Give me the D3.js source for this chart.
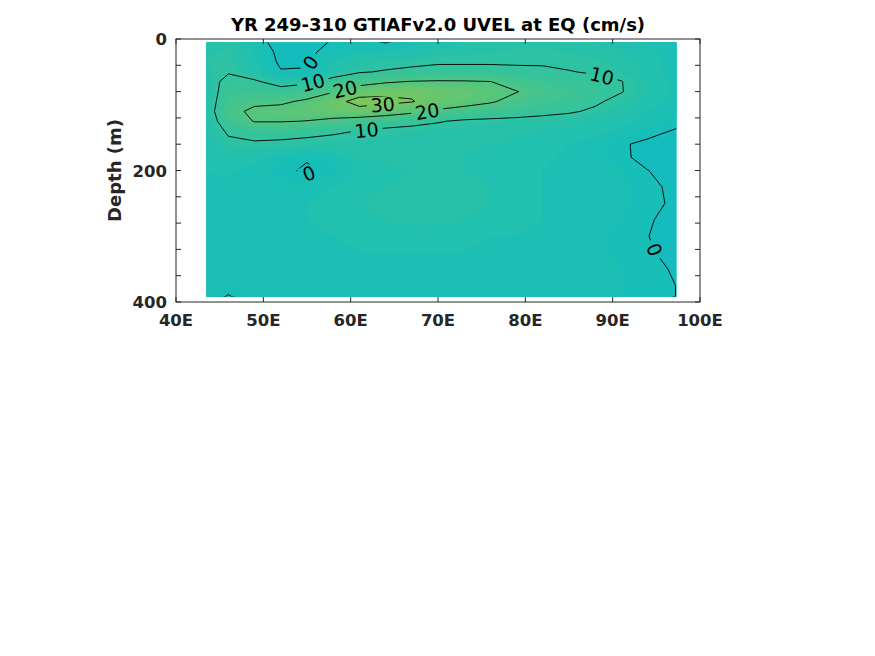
<!DOCTYPE html>
<html>
<head>
<meta charset="utf-8">
<script src="https://cdn.jsdelivr.net/npm/d3@7"></script>
<style>
  body { margin: 0; background: #ffffff; }
</style>
</head>
<body>
<script>

// ---- data ----
var lons = [43.5, 46, 49, 52, 55, 58, 61, 64, 67, 70, 73, 76, 79, 82, 85, 88, 91, 94, 97.3];
var depths = [5, 20, 35, 50, 65, 80, 95, 110, 125, 140, 160, 180, 200, 225, 250, 275, 300, 325, 350, 375, 392];

// zonal velocity (cm/s), one row per depth
var uvel = [
  [7, 7.5, 2, -2, -2, 0.5, 2, -0.3, 3, 5, 6, 6.5, 7, 7, 6.5, 6, 5, 4, 3],
  [7.5, 8.5, 4, -1.5, -1.5, 2.5, 4, 4, 5, 6.5, 7.5, 8, 8.5, 8.5, 8, 7.5, 6, 4.5, 3],
  [8, 8.5, 5, -1, -0.8, 4.5, 7, 8, 9, 9.5, 9.5, 9.5, 9.5, 9.5, 9, 8.5, 7, 5, 3],
  [7.5, 9.5, 6, 0.4, 0.6, 6, 9.5, 10.5, 11, 11.5, 11.5, 11.5, 11, 10.8, 10.2, 9.5, 8, 5, 3],
  [7, 12, 11, 7, 8.5, 13, 16, 19, 20.5, 21, 20.8, 20.2, 16, 14, 12.5, 11.5, 10.2, 6, 3.5],
  [6, 13.5, 14, 13, 15, 19.5, 26, 28, 28.5, 27, 25, 23, 20.3, 16.5, 14.5, 12.5, 10.3, 6.5, 3.5],
  [6, 15, 18, 18.5, 21.5, 27, 33, 32, 30.5, 26, 24, 21, 17, 15, 13, 11, 8, 5, 3],
  [6, 17, 22, 23, 24, 26, 27, 25, 22, 18.5, 16, 14.5, 13.5, 12, 10.8, 9, 6.5, 4, 2.5],
  [6, 14, 20.5, 20.5, 19.8, 17.5, 15.5, 13.5, 12, 10.5, 9, 8.5, 8, 7.5, 7, 6, 5, 3, 1.5],
  [5.5, 11, 13, 13, 12, 11, 9.8, 8.5, 8, 7.5, 7, 7, 6.5, 6, 5.5, 5, 3.5, 1.5, -0.5],
  [5, 8.5, 9, 8.5, 8, 7.5, 7, 7, 6.5, 6.5, 6.5, 6, 5.5, 5, 4, 3, 0.5, -1, -1.5],
  [4.5, 6, 5, 3, 0.5, 3, 6, 6.5, 6.5, 6.5, 6, 5.5, 5, 4.5, 3.5, 2.5, 0.6, -1, -1.5],
  [4, 4.5, 3, 1.2, -0.8, 1.5, 4.5, 5.5, 6, 6, 6, 5.5, 5, 4, 3, 2.5, 2, 0.05, -1],
  [3.5, 3.5, 3, 2.5, 3, 4, 5, 6, 6.5, 6.5, 6.5, 6, 5, 4, 3.5, 3, 2.5, 1, -1],
  [3.5, 3.5, 3.5, 3.5, 4, 5, 6, 6.5, 7, 7, 6.5, 6, 5, 4, 3.5, 3, 2.5, 1.2, -0.8],
  [3.5, 3.5, 3.5, 3.5, 4, 4.5, 5.5, 6, 6.5, 6.5, 6, 5, 4.5, 4, 3.5, 3, 2, 0.3, -1],
  [3.5, 3.5, 3.5, 3.5, 3.5, 4, 4.5, 5, 5, 5, 4.5, 4, 4, 3.5, 3, 2.5, 1.5, 0.05, -1],
  [3.5, 3.5, 3.5, 3.5, 3.5, 3.5, 4, 4, 4, 4, 4, 3.5, 3.5, 3.5, 3, 2.5, 1.5, 0.4, -1],
  [3.5, 3.5, 3.5, 3.5, 3.5, 3.5, 3.5, 3.5, 3.5, 3.5, 3.5, 3.5, 3, 3, 3, 2.5, 2, 1.2, -0.5],
  [3.5, 2, 3.5, 3.5, 3.5, 3.5, 3.5, 3.5, 3.5, 3.5, 3.5, 3, 3, 3, 3, 2.5, 2, 1.5, -0.05],
  [3, -0.5, 3, 3.5, 3.5, 3.5, 3.5, 3.5, 3.5, 3.5, 3.5, 3, 3, 3, 3, 2.5, 2, 1.5, -0.05]
];

var fillLevels = d3.range(-4, 38, 2);
var lineLevels = [0, 10, 20, 30];

var xTicks = [40, 50, 60, 70, 80, 90, 100];
var xTickLabels = ["40E", "50E", "60E", "70E", "80E", "90E", "100E"];
var yTicks = [0, 40, 80, 120, 160, 200, 240, 280, 320, 360, 400];
var yLabelled = [0, 200, 400];

// where the inline contour labels sit (lon, depth, level)
var labelLon = [54.97, 55.72, 59.35, 63.67, 68.8, 61.83, 88.74, 55.3, 94.5];
var labelDepth = [31.9, 68.9, 76, 97.8, 112, 138.4, 57.3, 206.8, 322];
var labelLevel = [0, 10, 20, 30, 20, 10, 10, 0, 0];

var titleText = "YR 249-310 GTIAFv2.0 UVEL at EQ (cm/s)";
var yTitle = "Depth (m)";


function draw_section(elem) {

    var W = 875, H = 656;
    var box = { left: 176, right: 700, top: 39, bottom: 302 };
    var axis_col = "#262626",
        tick_len = 5,
        label_font = '"DejaVu Sans", sans-serif';

    // parula-ish stops, teal -> green
    var color = d3.scaleLinear()
        .domain([-6, -2, 0, 4, 8, 12, 16, 20, 24, 28, 32, 36])
        .range(["#0cb7c7", "#12bbbf", "#16bdba", "#1ebfb2", "#2ac1a6", "#36c39a",
                "#43c48e", "#50c582", "#5ec676", "#6cc669", "#7ac75e", "#89c755"])
        .interpolate(d3.interpolateRgb);

    var svg = d3.select(elem)
        .append("svg")
        .attr("width", W)
        .attr("height", H);

    var x = d3.scaleLinear().domain([40, 100]).range([box.left, box.right]);
    var y = d3.scaleLinear().domain([0, 400]).range([box.top, box.bottom]);

    var nx = lons.length, ny = depths.length;
    // grid index -> lon / depth (piecewise, extrapolates past the ends)
    var iLon = d3.scaleLinear().domain(d3.range(nx)).range(lons);
    var jDep = d3.scaleLinear().domain(d3.range(ny)).range(depths);

    var flat = [];
    uvel.forEach(function(row) { row.forEach(function(v) { flat.push(v); }); });

    function toScreen(p) {
        return [x(iLon(p[0] - 0.5)), y(jDep(p[1] - 0.5))];
    }

    var path = d3.geoPath(d3.geoTransform({
        point: function(px, py) {
            var s = toScreen([px, py]);
            this.stream.point(s[0], s[1]);
        }
    }));

    var gen = d3.contours().size([nx, ny]);

    var dx0 = x(lons[0]), dx1 = x(lons[nx - 1]),
        dy0 = y(depths[0]), dy1 = y(depths[ny - 1]);

    var defs = svg.append("defs");
    defs.append("clipPath")
        .attr("id", "dataClip")
        .append("rect")
        .attr("x", dx0)
        .attr("y", dy0)
        .attr("width", dx1 - dx0)
        .attr("height", dy1 - dy0);

    // ==== filled bands ====
    var bands = svg.append("g").attr("clip-path", "url(#dataClip)");
    bands.selectAll("path")
        .data(gen.thresholds(fillLevels)(flat))
        .enter()
        .append("path")
        .attr("d", path)
        .attr("fill", function(d) { return color(d.value + 1); })
        .attr("stroke", function(d) { return color(d.value + 1); })
        .attr("stroke-width", 0.4);

    // ==== contour lines ====
    var lineGeo = {};
    lineLevels.forEach(function(v) { lineGeo[v] = gen.contour(flat, v); });

    function inside(p) {
        return p[0] >= dx0 - 0.5 && p[0] <= dx1 + 0.5 && p[1] >= dy0 - 0.5 && p[1] <= dy1 + 0.5;
    }

    var mask = defs.append("mask")
        .attr("id", "labelGaps")
        .attr("maskUnits", "userSpaceOnUse")
        .attr("x", 0).attr("y", 0).attr("width", W).attr("height", H);
    mask.append("rect")
        .attr("width", W).attr("height", H)
        .attr("fill", "white");

    var lines = svg.append("g").attr("clip-path", "url(#dataClip)")
        .append("g").attr("mask", "url(#labelGaps)");
    lines.selectAll("path")
        .data(lineLevels.map(function(v) { return lineGeo[v]; }))
        .enter()
        .append("path")
        .attr("d", path)
        .attr("fill", "none")
        .attr("stroke", "black")
        .attr("stroke-width", 0.9);

    // ==== inline labels ====
    var labels = svg.append("g");
    labelLon.forEach(function(lon, k) {
        var tx = x(lon), ty = y(labelDepth[k]);
        var best = null, bd = Infinity, ang = 0;
        lineGeo[labelLevel[k]].coordinates.forEach(function(poly) {
            poly.forEach(function(ring) {
                var r = ring.map(toScreen);
                for (var i = 0; i < r.length - 1; i++) {
                    var a = r[i], b = r[i + 1];
                    if (!inside(a) || !inside(b)) continue;
                    var vx = b[0] - a[0], vy = b[1] - a[1];
                    var l2 = vx * vx + vy * vy;
                    if (l2 === 0) continue;
                    var t = Math.max(0, Math.min(1, ((tx - a[0]) * vx + (ty - a[1]) * vy) / l2));
                    var px = a[0] + t * vx, py = a[1] + t * vy;
                    var dd = (px - tx) * (px - tx) + (py - ty) * (py - ty);
                    if (dd < bd) {
                        bd = dd;
                        best = [px, py];
                        ang = Math.atan2(vy, vx) * 180 / Math.PI;
                    }
                }
            });
        });
        if (!best) best = [tx, ty];
        if (ang > 90) ang -= 180;
        if (ang < -90) ang += 180;

        var txt = labels.append("text")
            .text(labelLevel[k])
            .attr("text-anchor", "middle")
            .attr("dominant-baseline", "central")
            .attr("font-family", label_font)
            .attr("font-size", "19px")
            .attr("fill", "black")
            .attr("transform", "translate(" + best[0] + "," + best[1] + ") rotate(" + ang + ")");

        var tw = txt.node().getComputedTextLength();
        mask.append("rect")
            .attr("x", -tw / 2 - 4)
            .attr("y", -8)
            .attr("width", tw + 8)
            .attr("height", 16)
            .attr("fill", "black")
            .attr("transform", "translate(" + best[0] + "," + best[1] + ") rotate(" + ang + ")");
    });

    // ==== axes box and ticks ====
    var ax = svg.append("g");
    ax.append("rect")
        .attr("x", box.left)
        .attr("y", box.top)
        .attr("width", box.right - box.left)
        .attr("height", box.bottom - box.top)
        .attr("fill", "none")
        .attr("stroke", axis_col)
        .attr("stroke-width", 1);

    ax.selectAll("line.xt")
        .data(xTicks)
        .enter()
        .append("path")
        .attr("d", function(d) {
            return "M" + x(d) + "," + box.bottom + "v" + (-tick_len) +
                   "M" + x(d) + "," + box.top + "v" + tick_len;
        })
        .attr("stroke", axis_col)
        .attr("stroke-width", 1);

    ax.selectAll("line.yt")
        .data(yTicks)
        .enter()
        .append("path")
        .attr("d", function(d) {
            return "M" + box.left + "," + y(d) + "h" + tick_len +
                   "M" + box.right + "," + y(d) + "h" + (-tick_len);
        })
        .attr("stroke", axis_col)
        .attr("stroke-width", 1);

    ax.selectAll("text.xl")
        .data(xTicks)
        .enter()
        .append("text")
        .text(function(d, i) { return xTickLabels[i]; })
        .attr("x", function(d) { return x(d); })
        .attr("y", box.bottom + 24)
        .attr("text-anchor", "middle")
        .attr("font-family", label_font)
        .attr("font-size", "16.5px")
        .attr("font-weight", "bold")
        .attr("fill", axis_col);

    ax.selectAll("text.yl")
        .data(yLabelled)
        .enter()
        .append("text")
        .text(function(d) { return d; })
        .attr("x", box.left - 9)
        .attr("y", function(d) { return y(d) + 6; })
        .attr("text-anchor", "end")
        .attr("font-family", label_font)
        .attr("font-size", "16.5px")
        .attr("font-weight", "bold")
        .attr("fill", axis_col);

    ax.append("text")
        .text(yTitle)
        .attr("transform", "translate(" + 121 + "," + (box.top + box.bottom) / 2 + ") rotate(-90)")
        .attr("text-anchor", "middle")
        .attr("font-family", label_font)
        .attr("font-size", "18px")
        .attr("font-weight", "bold")
        .attr("fill", axis_col);

    svg.append("text")
        .text(titleText)
        .attr("x", (box.left + box.right) / 2)
        .attr("y", 31)
        .attr("text-anchor", "middle")
        .attr("font-family", label_font)
        .attr("font-size", "18px")
        .attr("font-weight", "bold")
        .attr("fill", "#000000");
}

draw_section("body");
</script>
</body>
</html>
